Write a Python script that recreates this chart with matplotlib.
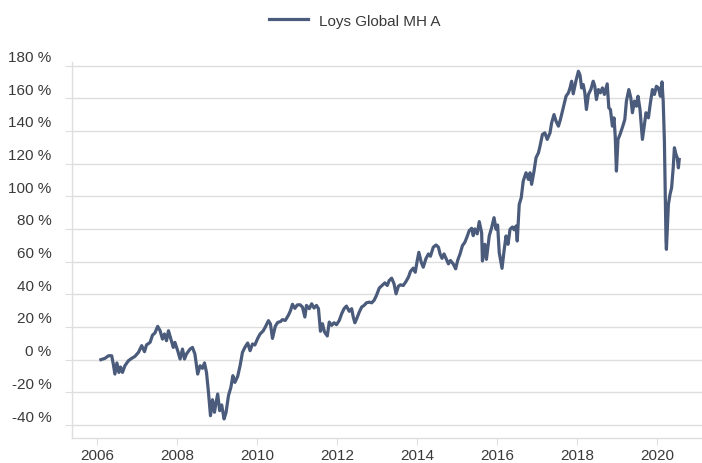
import matplotlib
matplotlib.use("Agg")
import matplotlib.pyplot as plt
import matplotlib.transforms as mtransforms

# fund performance since launch (decimal year, % gain)
years = [
    2006.09, 2006.19, 2006.28, 2006.36, 2006.40, 2006.44, 2006.49, 2006.54, 2006.58, 2006.63,
    2006.69, 2006.78, 2006.86, 2006.94, 2007.03, 2007.11, 2007.18, 2007.23, 2007.32, 2007.38,
    2007.44, 2007.51, 2007.57, 2007.63, 2007.68, 2007.73, 2007.78, 2007.84, 2007.90, 2007.94,
    2008.01, 2008.07, 2008.13, 2008.18, 2008.23, 2008.32, 2008.38, 2008.44, 2008.51, 2008.57,
    2008.63, 2008.68, 2008.73, 2008.78, 2008.83, 2008.88, 2008.93, 2008.96, 2009.01, 2009.06,
    2009.11, 2009.17, 2009.22, 2009.28, 2009.34, 2009.39, 2009.44, 2009.51, 2009.57, 2009.63,
    2009.69, 2009.76, 2009.82, 2009.88, 2009.94, 2010.01, 2010.07, 2010.15, 2010.21, 2010.28,
    2010.33, 2010.38, 2010.45, 2010.51, 2010.58, 2010.63, 2010.70, 2010.78, 2010.83, 2010.88,
    2010.94, 2011.00, 2011.07, 2011.13, 2011.19, 2011.23, 2011.30, 2011.36, 2011.42, 2011.48,
    2011.53, 2011.58, 2011.63, 2011.68, 2011.75, 2011.80, 2011.86, 2011.92, 2011.98, 2012.05,
    2012.11, 2012.17, 2012.23, 2012.30, 2012.36, 2012.40, 2012.44, 2012.48, 2012.55, 2012.61,
    2012.67, 2012.73, 2012.80, 2012.86, 2012.92, 2012.98, 2013.05, 2013.12, 2013.19, 2013.25,
    2013.30, 2013.36, 2013.42, 2013.47, 2013.53, 2013.58, 2013.65, 2013.72, 2013.78, 2013.83,
    2013.90, 2013.95, 2014.00, 2014.04, 2014.10, 2014.15, 2014.22, 2014.28, 2014.33, 2014.40,
    2014.47, 2014.53, 2014.57, 2014.62, 2014.67, 2014.73, 2014.78, 2014.83, 2014.90, 2014.96,
    2015.01, 2015.07, 2015.13, 2015.19, 2015.25, 2015.30, 2015.36, 2015.40, 2015.44, 2015.50,
    2015.55, 2015.61, 2015.63, 2015.69, 2015.73, 2015.80, 2015.86, 2015.92, 2015.97, 2016.01,
    2016.05, 2016.12, 2016.17, 2016.22, 2016.27, 2016.32, 2016.38, 2016.42, 2016.47, 2016.50,
    2016.55, 2016.60, 2016.65, 2016.72, 2016.78, 2016.82, 2016.86, 2016.92, 2016.97, 2017.03,
    2017.07, 2017.13, 2017.19, 2017.25, 2017.32, 2017.36, 2017.42, 2017.47, 2017.53, 2017.58,
    2017.65, 2017.72, 2017.78, 2017.82, 2017.86, 2017.90, 2017.97, 2018.03, 2018.07, 2018.11,
    2018.15, 2018.19, 2018.23, 2018.28, 2018.34, 2018.40, 2018.44, 2018.48, 2018.53, 2018.58,
    2018.63, 2018.68, 2018.75, 2018.79, 2018.83, 2018.88, 2018.92, 2018.95, 2018.98, 2019.02,
    2019.07, 2019.14, 2019.19, 2019.23, 2019.29, 2019.34, 2019.38, 2019.43, 2019.48, 2019.52,
    2019.57, 2019.63, 2019.68, 2019.72, 2019.78, 2019.83, 2019.88, 2019.93, 2019.98, 2020.03,
    2020.08, 2020.12, 2020.15, 2020.18, 2020.20, 2020.22, 2020.23, 2020.26, 2020.28, 2020.32,
    2020.36, 2020.40, 2020.43, 2020.47, 2020.50, 2020.53, 2020.55,
]
perf = [
    0.0, 0.8, 2.4, 2.4, -2.7, -8.8, -2.0, -7.8, -4.5, -7.8,
    -3.7, -0.6, 0.8, 2.0, 4.5, 8.6, 4.9, 9.0, 10.6, 15.0,
    16.3, 20.4, 17.7, 12.6, 15.7, 11.6, 17.7, 12.6, 7.5, 10.6,
    5.5, 0.4, 6.5, 0.4, 3.5, 6.5, 7.5, 3.5, -8.8, -3.7,
    -5.3, -2.0, -7.8, -20.0, -34.3, -24.5, -32.2, -27.5, -21.0, -31.2,
    -27.7, -36.3, -32.2, -22.0, -16.9, -9.8, -13.9, -10.2, -3.7, 4.5,
    7.5, 10.2, 5.5, 9.6, 9.0, 13.0, 15.7, 17.7, 20.4, 23.9,
    21.8, 13.0, 20.4, 22.8, 23.3, 24.5, 24.0, 27.3, 30.0, 33.9,
    31.4, 33.5, 33.6, 32.2, 26.1, 33.2, 31.2, 34.2, 31.6, 33.2,
    31.2, 17.4, 22.0, 17.0, 14.5, 23.0, 21.0, 22.6, 21.4, 24.0,
    28.1, 31.2, 32.8, 29.6, 31.2, 26.1, 22.6, 24.7, 29.1, 32.2,
    33.2, 34.8, 35.2, 34.8, 36.3, 39.3, 43.8, 45.4, 47.0, 45.4,
    48.5, 49.9, 46.4, 40.3, 45.0, 45.8, 45.4, 47.9, 50.5, 54.0,
    56.0, 53.5, 60.7, 65.7, 59.6, 56.6, 62.0, 64.7, 63.3, 68.8,
    70.2, 68.8, 64.7, 62.0, 64.7, 61.3, 58.6, 60.7, 58.6, 55.6,
    60.7, 64.7, 69.8, 71.8, 75.5, 79.0, 80.4, 75.9, 80.0, 77.0,
    84.5, 77.7, 60.4, 70.6, 61.4, 75.7, 80.8, 86.9, 79.8, 82.4,
    65.5, 55.9, 66.5, 75.7, 70.6, 79.8, 81.2, 79.5, 81.8, 72.6,
    95.0, 99.1, 109.3, 114.4, 110.3, 114.4, 107.3, 115.4, 123.6, 126.6,
    130.7, 137.8, 138.8, 134.8, 138.8, 144.9, 150.0, 146.0, 142.9, 147.0,
    154.1, 161.2, 163.3, 166.3, 170.4, 162.7, 170.8, 176.5, 174.1, 166.3,
    168.4, 163.3, 153.1, 162.3, 165.3, 170.4, 167.3, 159.2, 165.3, 163.3,
    166.3, 162.3, 168.8, 154.1, 153.1, 142.9, 148.0, 136.8, 115.4, 134.8,
    137.8, 142.9, 147.0, 158.2, 165.3, 160.2, 151.1, 158.2, 155.1, 161.2,
    153.1, 134.8, 143.9, 151.1, 148.0, 157.2, 165.3, 162.3, 167.3, 166.3,
    161.2, 170.0, 158.2, 133.7, 103.2, 72.6, 67.5, 84.9, 95.0, 101.1,
    105.2, 117.4, 129.7, 125.6, 123.6, 117.4, 122.5,
]
series_name = "Loys Global MH A"
x_ticks = [2006, 2008, 2010, 2012, 2014, 2016, 2018, 2020]
y_ticks = [-40, -20, 0, 20, 40, 60, 80, 100, 120, 140, 160, 180]

line_color = "#4b5b7b"
grid_color = "#dedede"
text_color = "#3a3a3a"

plt.rcParams["font.family"] = ["Liberation Sans", "DejaVu Sans"]
plt.rcParams["font.size"] = 11

fig = plt.figure(figsize=(7.02, 4.64), dpi=100)
ax = fig.add_axes([0.103, 0.054, 0.897, 0.81])

ax.plot(years, perf, color=line_color, lw=2.3, solid_joinstyle="round",
        label=series_name)

ax.set_xlim(2005.375, 2021.12)
ax.set_ylim(-47.9, 182.1)
ax.set_xticks(x_ticks)
ax.set_xticklabels([str(y) for y in x_ticks])
ax.set_yticks(y_ticks)
ax.set_yticklabels([f"{v} %" for v in y_ticks])

ax.grid(axis="y", color=grid_color, lw=1.0)
ax.set_axisbelow(True)
for side in ["top", "right"]:
    ax.spines[side].set_visible(False)
for side in ["left", "bottom"]:
    ax.spines[side].set_color(grid_color)
    ax.spines[side].set_linewidth(1.0)

ax.tick_params(axis="x", length=5, color=grid_color, pad=2.5, labelcolor=text_color)
ax.tick_params(axis="y", length=5, color=grid_color, pad=10, labelcolor=text_color)

# y labels sit a bit above their grid lines in the original
shift = mtransforms.ScaledTranslation(0, 0.10, fig.dpi_scale_trans)
for lab in ax.get_yticklabels():
    lab.set_transform(lab.get_transform() + shift)

leg = fig.legend(loc="center", bbox_to_anchor=(0.505, 0.953), frameon=False,
                 handlelength=2.6, handletextpad=0.7, fontsize=11)
for t in leg.get_texts():
    t.set_color(text_color)

fig.savefig("out.png", dpi=100)
